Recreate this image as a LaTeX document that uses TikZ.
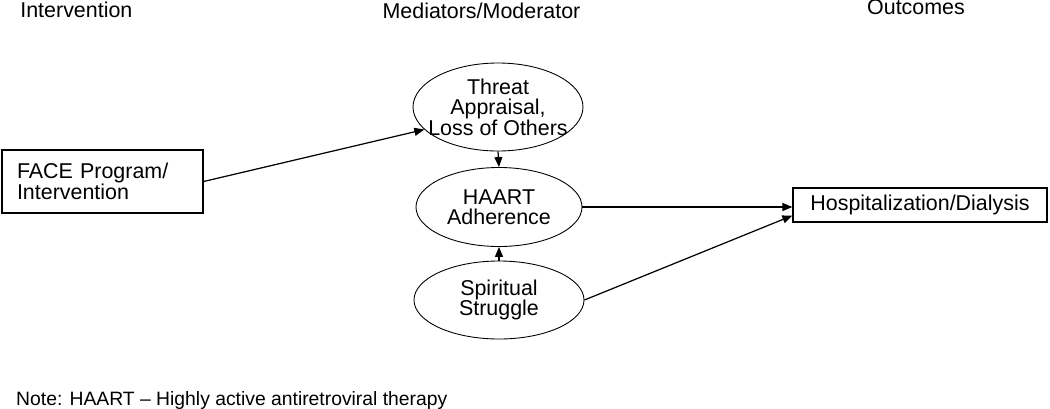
\documentclass[tikz,border=0pt]{standalone}
\usepackage{fontspec}
\setmainfont{Liberation Sans}
\usetikzlibrary{arrows.meta, positioning, calc, shapes.geometric}

\begin{document}
\begin{tikzpicture}[>={Triangle[length=2mm,width=1.6mm]},
    font=\fontsize{12.2}{11.6}\selectfont,
    medbox/.style={draw, ellipse, line width=0.5pt, inner sep=0pt, align=center},
    termbox/.style={draw, rectangle, line width=0.7pt, inner sep=0pt},
    path/.style={->, line width=0.7pt}]
        \useasboundingbox (0,0) rectangle (21,-8.16);

        % Column headings
        \node[anchor=west, inner sep=0pt] (hint) at (0.4,-0.2) {Intervention};
        \node (hmed) at (9.63,-0.22) {Mediators/Moderator};
        \node (hout) at (18.32,-0.14) {Outcomes};

        % Intervention
        \node[termbox, minimum width=4.02cm, minimum height=1.26cm, inner xsep=0.3cm, text width=3.42cm, align=left] (face) at (2.05,-3.63) {FACE Program/\\Intervention};

        % Mediators / moderator
        \node[medbox, minimum width=3.4cm, minimum height=1.76cm, inner xsep=-0.35cm, inner ysep=-0.15cm] (threat) at (9.96,-2.14) {Threat\\Appraisal,\\Loss of Others};
        \node[medbox, minimum width=3.32cm, minimum height=1.58cm] (haart) at (9.98,-4.14) {HAART\\Adherence};
        \node[medbox, minimum width=3.4cm, minimum height=1.56cm] (spirit) at (9.98,-6.0) {Spiritual\\Struggle};

        % Outcome
        \node[termbox, minimum width=5.08cm, minimum height=0.68cm] (hosp) at (18.4,-4.1) {Hospitalization/Dialysis};

        % Paths
        \draw[path] (face.east) -- (threat.197);
        \draw[path] (threat.south) -- (haart.north);
        \draw[path] (spirit.north) -- (haart.south);
        \draw[path] (haart.east) -- (haart.east -| hosp.west);
        \draw[path] (spirit.east) -- ($(hosp.south west)!0.2!(hosp.north west)$);

        % Note
        \node[anchor=west, font=\fontsize{11}{12}\selectfont] (note) at (0.2,-8.0) {Note: HAART -- Highly active antiretroviral therapy};
    \end{tikzpicture}
\end{document}
